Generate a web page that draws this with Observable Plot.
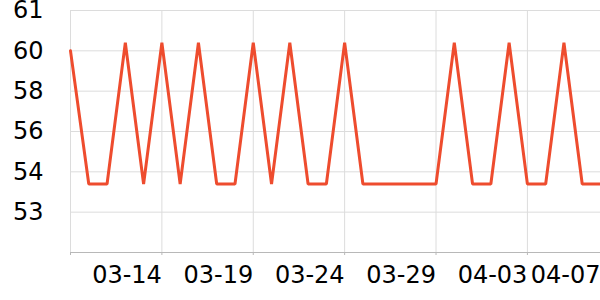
<!DOCTYPE html>
<html>
<head>
<meta charset="utf-8">
<script src="https://cdn.jsdelivr.net/npm/d3@7"></script>
<script src="https://cdn.jsdelivr.net/npm/@observablehq/plot@0.6"></script>
<style>
  html, body { margin: 0; padding: 0; background: #fff; }
  #chart { width: 600px; height: 300px; }
</style>
</head>
<body>
<div id="chart"></div>
<script>
// Daily dates and values
const dates = [
  "2024-03-09","2024-03-10","2024-03-11","2024-03-12","2024-03-13","2024-03-14",
  "2024-03-15","2024-03-16","2024-03-17","2024-03-18","2024-03-19","2024-03-20",
  "2024-03-21","2024-03-22","2024-03-23","2024-03-24","2024-03-25","2024-03-26",
  "2024-03-27","2024-03-28","2024-03-29","2024-03-30","2024-03-31","2024-04-01",
  "2024-04-02","2024-04-03","2024-04-04","2024-04-05","2024-04-06","2024-04-07"
];
const values = [
  60.0, 53.7, 53.7, 60.2, 53.7, 60.2,
  53.7, 60.2, 53.7, 53.7, 60.2, 53.7,
  60.2, 53.7, 53.7, 60.2, 53.7, 53.7,
  53.7, 53.7, 53.7, 60.2, 53.7, 53.7,
  60.2, 53.7, 53.7, 60.2, 53.7, 53.7
];

// Axis ticks
const xTickDates = ["2024-03-09","2024-03-14","2024-03-19","2024-03-24","2024-03-29","2024-04-03","2024-04-07"];
const xTickLabels = ["", "03-14", "03-19", "03-24", "03-29", "04-03", "04-07"];
const yDomain = [52, 53, 54, 56, 58, 60, 61];
const yTicks = [53, 54, 56, 58, 60, 61];
const yTickLabels = ["53", "54", "56", "58", "60", "61"];

const W = 600, H = 300, mL = 70, mR = 0, mT = 10, mB = 48;

const data = dates.map((d, i) => ({date: new Date(d + "T00:00:00Z"), value: values[i]}));
const xTicks = xTickDates.map(d => new Date(d + "T00:00:00Z"));
const xLabelOf = new Map(xTicks.map((d, i) => [+d, xTickLabels[i]]));
const yLabelOf = new Map(yTicks.map((v, i) => [v, yTickLabels[i]]));
// evenly spaced piecewise range for the y scale
const yRange = d3.quantize(d3.interpolateNumber(H - mB, mT), yDomain.length);

const chart = Plot.plot({
  width: W,
  height: H,
  marginLeft: mL,
  marginRight: mR,
  marginTop: mT,
  marginBottom: mB,
  style: {fontFamily: "DejaVu Sans", fontSize: "24px", color: "#000", background: "#fff"},
  x: {type: "utc", domain: [xTicks[0], xTicks[xTicks.length - 1]]},
  y: {type: "linear", domain: yDomain, range: yRange},
  marks: [
    Plot.gridY(yTicks, {stroke: "#dcdcdc", strokeOpacity: 1, strokeWidth: 1}),
    Plot.gridX(xTicks, {stroke: "#dcdcdc", strokeOpacity: 1, strokeWidth: 1}),
    Plot.ruleY([yDomain[0]], {stroke: "#b8b8b8", strokeWidth: 1.2}),
    Plot.axisY({
      ticks: yTicks,
      tickFormat: v => yLabelOf.get(v),
      tickSize: 0,
      tickPadding: 27,
      label: null,
      fontSize: 24,
      fill: "#000"
    }),
    Plot.axisX({
      ticks: xTicks,
      tickFormat: d => xLabelOf.get(+d),
      tickSize: 3,
      tickPadding: 10,
      textAnchor: "end",
      label: null,
      stroke: "#b8b8b8",
      fontSize: 24,
      fill: "#000"
    }),
    Plot.line(data, {x: "date", y: "value", stroke: "#ee4c2e", strokeWidth: 3, strokeLinejoin: "miter"})
  ]
});
document.getElementById("chart").appendChild(chart);
</script>
</body>
</html>
